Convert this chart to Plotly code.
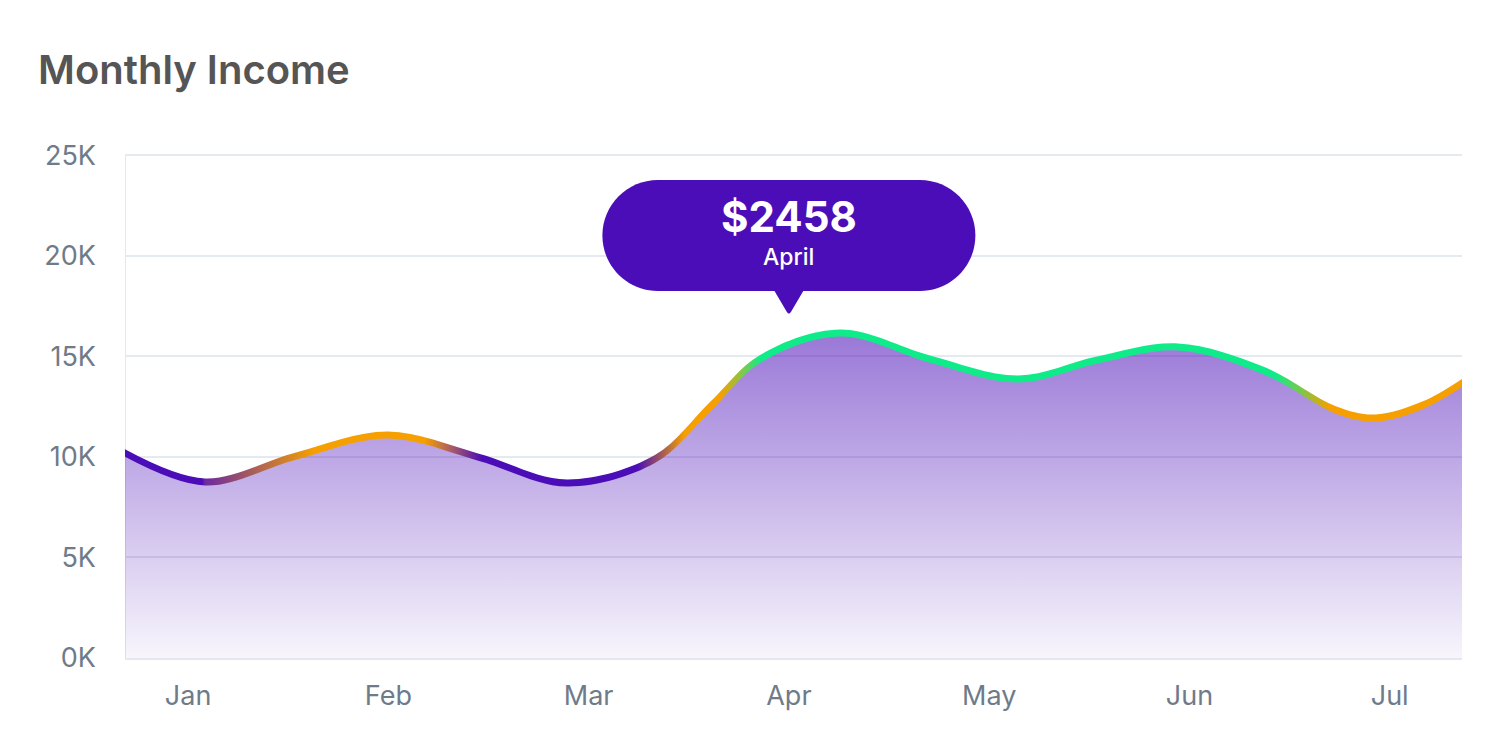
import numpy as np
import plotly.graph_objects as go

# month ticks (x unit = one month, Jan = 0)
months = ["Jan", "Feb", "Mar", "Apr", "May", "Jun", "Jul"]

y_ticks = [0, 5, 10, 15, 20, 25]
y_tick_labels = ["0K", "5K", "10K", "15K", "20K", "25K"]

# points: position in months, income in thousands
curve_x = [-0.315, 0.085, 0.539, 0.998, 1.448, 1.892, 2.331, 2.606, 2.856,
           3.255, 3.704, 4.144, 4.538, 4.943, 5.377, 5.731, 5.926, 6.166, 6.361]
curve_k = [10.19, 8.75, 10.04, 11.08, 9.99, 8.70, 9.89, 12.48, 14.86,
           16.15, 14.86, 13.87, 14.81, 15.46, 14.26, 12.33, 11.93, 12.57, 13.67]

tooltip_value = "$2458"
tooltip_month = "April"
tooltip_at = 3  # April

PURPLE = "#4a0db8"
ORANGE = "#f5a000"
GREEN = "#10eb8a"

X_MIN, X_MAX = curve_x[0], curve_x[-1]
Y_MAX = 25.5

# where the stroke colour changes along x (month units)
stroke_stops = [(-0.315, PURPLE), (0.07, PURPLE), (0.085, "#6c2aa0"),
                (0.63, ORANGE), (1.18, ORANGE), (1.32, "#a55a6a"),
                (1.47, PURPLE), (2.24, PURPLE), (2.48, ORANGE),
                (2.66, ORANGE), (2.76, "#8ac545"), (2.86, GREEN),
                (5.43, GREEN), (5.70, ORANGE), (6.361, ORANGE)]
stroke_scale = [[(p - X_MIN) / (X_MAX - X_MIN), c] for p, c in stroke_stops]

# plot area in pixels (page body adds 8px on the left and top)
W, H = 1500, 753
L, R, B = 117, 46, 103
PLOT_H = 513
T = H - B - PLOT_H
px_x = (W - L - R) / (X_MAX - X_MIN)
px_y = PLOT_H / Y_MAX

x = np.array(curve_x)
k = np.array(curve_k)

# stroke drawn as a thin band so it can carry a gradient
slope = (np.gradient(k) * px_y) / (np.gradient(x) * px_x)
half = 3.5 / px_y * np.sqrt(1 + slope ** 2)

fig = go.Figure()

fig.add_trace(go.Scatter(
    x=x, y=k, mode="lines", line=dict(width=0, shape="spline"),
    fill="tozeroy",
    fillgradient=dict(type="vertical", start=0, stop=k.max(),
                      colorscale=[[0, "rgba(74,13,184,0.04)"],
                                  [1, "rgba(74,13,184,0.56)"]]),
    hoverinfo="skip", showlegend=False))

fig.add_trace(go.Scatter(
    x=x, y=k - half, mode="lines", line=dict(width=0, shape="spline"),
    hoverinfo="skip", showlegend=False))

fig.add_trace(go.Scatter(
    x=x, y=k + half, mode="lines", line=dict(width=0, shape="spline"),
    fill="tonexty",
    fillgradient=dict(type="horizontal", start=X_MIN, stop=X_MAX,
                      colorscale=stroke_scale),
    hoverinfo="skip", showlegend=False))

# left axis line, stopping at the top gridline
fig.add_shape(type="line", x0=X_MIN, x1=X_MIN, y0=0, y1=y_ticks[-1],
              xref="x", yref="y", line=dict(color="#e3e8ef", width=2), layer="below")

# tooltip bubble (pixel path relative to the tip, y up)
tip_y = 17.1
w2, b0, b1 = 186.5, 23, 134
r = (b1 - b0) / 2
c = 0.5523 * r
pill = (f"M {-w2 + r},{b0} L {w2 - r},{b0} "
        f"C {w2 - r + c},{b0} {w2},{b0 + r - c} {w2},{b0 + r} "
        f"C {w2},{b0 + r + c} {w2 - r + c},{b1} {w2 - r},{b1} "
        f"L {-w2 + r},{b1} "
        f"C {-w2 + r - c},{b1} {-w2},{b0 + r + c} {-w2},{b0 + r} "
        f"C {-w2},{b0 + r - c} {-w2 + r - c},{b0} {-w2 + r},{b0} Z")
pointer = "M -15,24 L -2,2 Q 0,-1 2,2 L 15,24 Z"
for path in (pill, pointer):
    fig.add_shape(type="path", path=path, xref="x", yref="y",
                  xsizemode="pixel", ysizemode="pixel",
                  xanchor=tooltip_at, yanchor=tip_y,
                  fillcolor="#4b0db7", line=dict(width=0), layer="above")

fig.add_annotation(x=tooltip_at, y=tip_y, yshift=97, text=f"<b>{tooltip_value}</b>",
                   showarrow=False, font=dict(family="Inter", size=42, color="white"))
fig.add_annotation(x=tooltip_at, y=tip_y, yshift=57, text=tooltip_month,
                   showarrow=False, font=dict(family="Inter", size=23, color="white",
                                              weight=500))

fig.update_layout(
    width=W, height=H,
    margin=dict(l=L, r=R, t=T, b=B),
    paper_bgcolor="white", plot_bgcolor="white",
    title=dict(text="Monthly Income", x=30 / W, xref="container", xanchor="left",
               y=1 - 62 / H, yref="container", yanchor="middle",
               font=dict(family="Inter", size=40, color="#555555", weight=600)),
    hovermode=False,
    showlegend=False,
)
fig.update_xaxes(range=[X_MIN, X_MAX], tickvals=list(range(len(months))),
                 ticktext=months, showgrid=False, zeroline=False,
                 showline=True, linecolor="#e3e8ef", linewidth=2,
                 ticks="", ticklabelstandoff=13,
                 tickfont=dict(family="Inter", size=27, color="#6f7b89"))
fig.update_yaxes(range=[0, Y_MAX], tickvals=y_ticks, ticktext=y_tick_labels,
                 showgrid=True, gridcolor="#e5e9f0", gridwidth=1.5,
                 zeroline=False, showline=False,
                 ticks="", ticklabelstandoff=28,
                 tickfont=dict(family="Inter", size=27, color="#6f7b89"))

fig.write_html("out.html")
